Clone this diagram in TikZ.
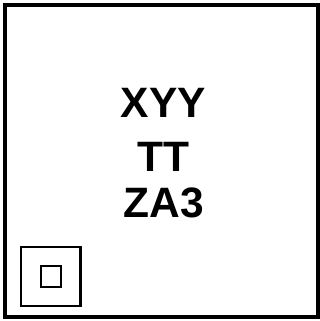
\documentclass[tikz,border=0pt]{standalone}
\usepackage{fontspec}
\setmainfont{Liberation Sans}
\begin{document}
\begin{tikzpicture}[x=1pt,y=1pt,
  frame/.style={draw=black,line width=4pt},
  pad/.style={draw=black,line width=2.5pt},
  lbl/.style={font=\fontsize{42.5}{50}\selectfont\bfseries,anchor=base,inner sep=0pt}]
\useasboundingbox (0,0) rectangle (320,321);
\draw[frame] (5,4) rectangle (317.5,316);
\draw[pad] (21,15) rectangle (80.5,74);
\draw[pad,line width=2pt] (41,34) rectangle (61,54.5);
\node[lbl] (l1) at (163.5,203) {XYY};
\node[lbl] (l2) at (163.5,149) {TT};
\node[lbl] (l3) at (163.5,103) {ZA3};
\end{tikzpicture}
\end{document}
